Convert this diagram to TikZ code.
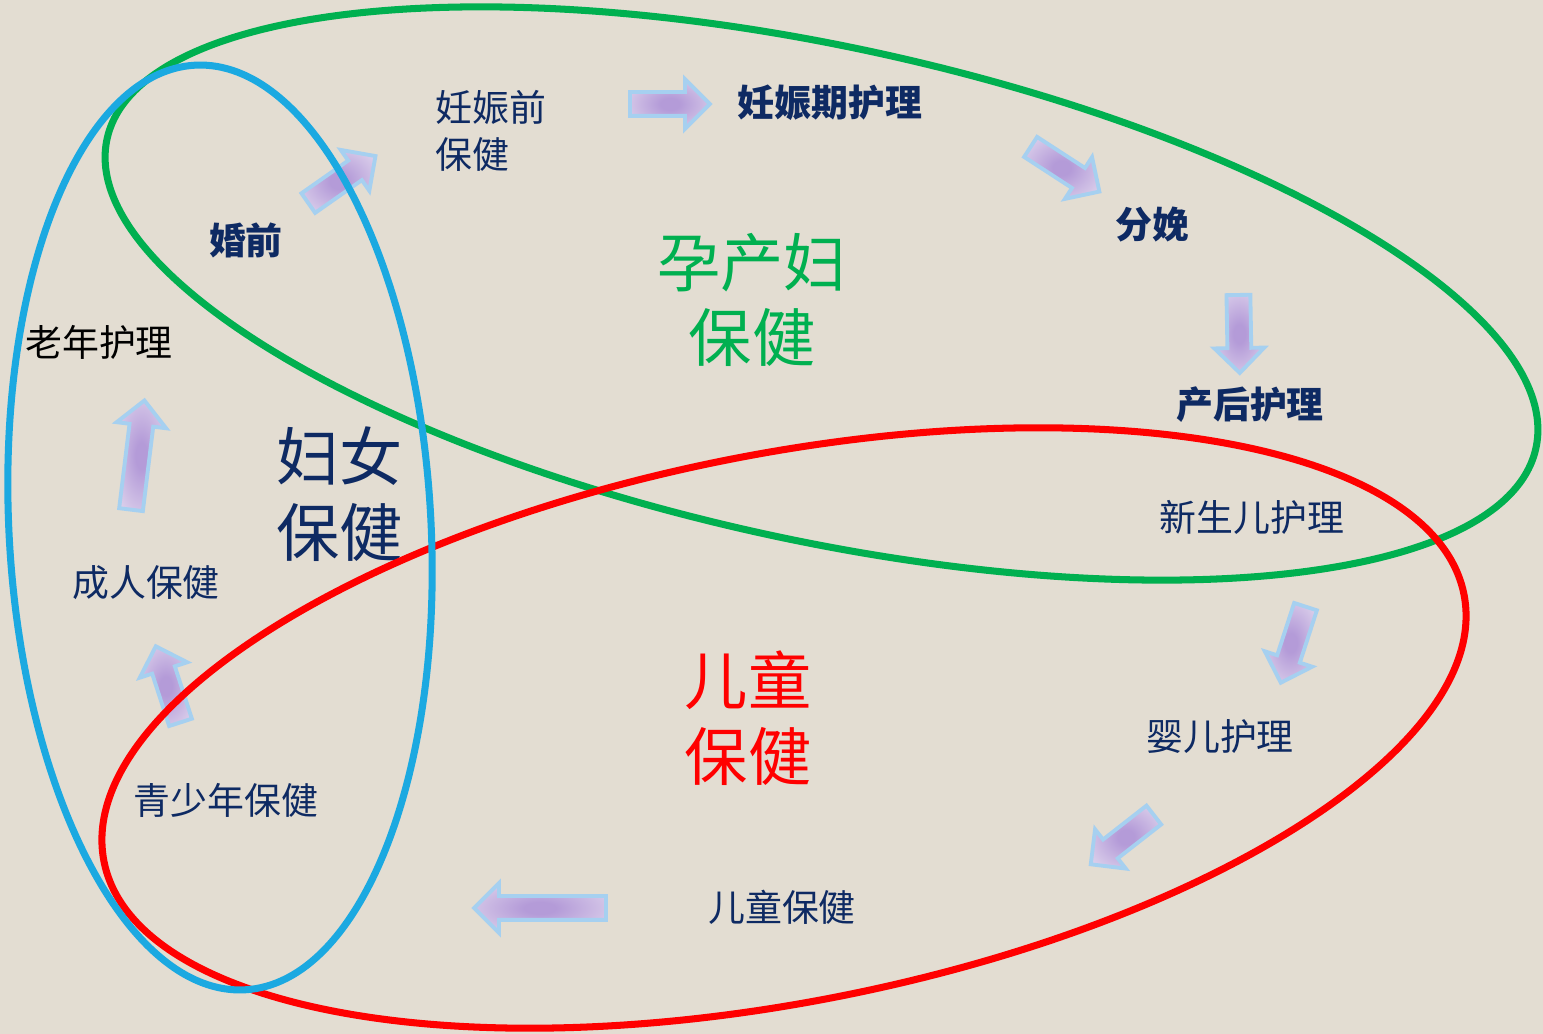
\documentclass[tikz,border=0pt]{standalone}
\usepackage{fontspec}
\newfontfamily\cjk{Noto Sans CJK SC}
\usetikzlibrary{shapes.arrows}
\definecolor{bg}{HTML}{E3DDD2}
\definecolor{navy}{HTML}{0E2A63}
\definecolor{ringblue}{HTML}{1BA9E1}
\definecolor{ringgreen}{HTML}{00B050}
\definecolor{ringred}{HTML}{FF0000}
\definecolor{arrin}{HTML}{B49BD8}
\definecolor{arrout}{HTML}{E6DEF0}
\definecolor{arredge}{HTML}{A6D0F0}
\pgfdeclareradialshading{arrshade}{\pgfpoint{0bp}{0bp}}{color(0bp)=(arrin); color(6bp)=(arrin); color(38bp)=(arrout); color(50bp)=(arrout)}
\tikzstyle{blockarr} = [single arrow, draw=arredge, line width=1.1pt, shading=arrshade, inner xsep=0pt, inner ysep=0.1cm, minimum width=0.46cm, single arrow head extend=0.13cm]
\tikzstyle{lbl} = [font=\cjk\fontsize{10.5}{13.3}\selectfont, text=navy, inner sep=0pt]
\tikzstyle{lblb} = [lbl, font=\cjk\bfseries\fontsize{10.5}{13.3}\selectfont]
\tikzstyle{big} = [font=\cjk\fontsize{18}{21.5}\selectfont, align=center, inner sep=0pt]
\tikzstyle{ring} = [line width=2pt]

\begin{document}
\begin{tikzpicture}
          \useasboundingbox (0,0) rectangle (15.43,-10.34);
          \fill[bg] (0,0) rectangle (15.43,-10.34);

          % block arrows
          \node[blockarr, minimum height=0.80cm, rotate=0] at (6.64,-1.04) (ar1) {};
          \node[blockarr, minimum height=0.82cm, rotate=35] at (3.37,-1.83) (ar2) {};
          \node[blockarr, minimum height=0.82cm, rotate=-33] at (10.60,-1.66) (ar3) {};
          \node[blockarr, minimum height=0.78cm, rotate=-89] at (12.39,-3.28) (ar4) {};
          \node[blockarr, minimum height=0.80cm, rotate=-108] at (12.95,-6.39) (ar5) {};
          \node[blockarr, minimum height=0.80cm, rotate=-142] at (11.27,-8.36) (ar6) {};
          \node[blockarr, minimum height=1.32cm, rotate=180] at (5.46,-9.08) (ar7) {};
          \node[blockarr, minimum height=0.80cm, rotate=108] at (1.70,-6.90) (ar8) {};
          \node[blockarr, minimum height=1.10cm, rotate=83] at (1.37,-4.61) (ar9) {};

          % steps
          \node[lbl, anchor=west, align=left] at (4.35,-1.31) (pre) {妊娠前\\保健};
          \node[lblb] at (8.30,-1.03) (preg) {妊娠期护理};
          \node[lblb] at (11.52,-2.25) (birth) {分娩};
          \node[lblb] at (12.50,-4.05) (post) {产后护理};
          \node[lbl] at (12.52,-5.17) (newb) {新生儿护理};
          \node[lbl] at (12.20,-7.37) (inf) {婴儿护理};
          \node[lbl] at (7.82,-9.07) (child) {儿童保健};
          \node[lbl] at (2.26,-8.00) (teen) {青少年保健};
          \node[lbl] at (1.46,-5.83) (adult) {成人保健};
          \node[lbl, text=black] at (0.99,-3.42) (old) {老年护理};
          \node[lblb] at (2.46,-2.40) (marr) {婚前};

          % groups
          \node[big, text=ringgreen] at (7.52,-3.00) (gmat) {孕产妇\\保健};
          \node[big, text=navy] at (3.40,-4.94) (gwom) {妇女\\保健};
          \node[big, text=ringred] at (7.48,-7.18) (gchi) {儿童\\保健};

          \draw[ring, ringgreen, shift={(8.215,-2.935)}, rotate=-12.2] (0,0) ellipse [x radius=7.31, y radius=2.47];
          \draw[ring, ringred, shift={(7.84,-7.28)}, rotate=11.1] (0,0) ellipse [x radius=6.93, y radius=2.74];
          \draw[ring, ringblue, shift={(2.20,-5.275)}, rotate=3.1] (0,0) ellipse [x radius=2.11, y radius=4.63];
        \end{tikzpicture}
\end{document}
